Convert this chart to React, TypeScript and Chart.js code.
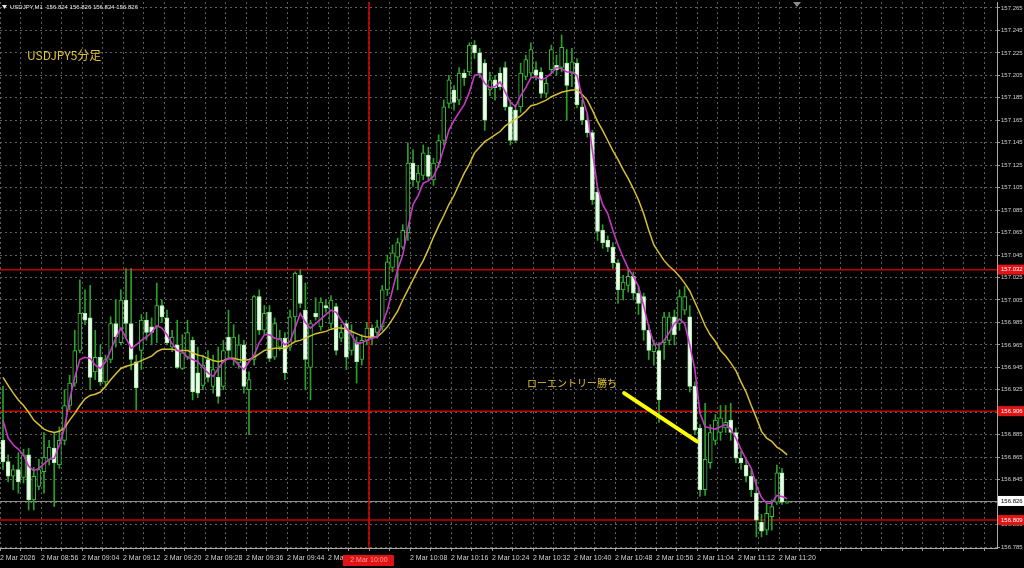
import React, { useEffect, useRef } from "react";
import { Chart, registerables } from "chart.js";

Chart.register(...registerables);

// ---------- data (USDJPY M1, bars 0..153) ----------
const opens = [
  156.880, 156.861, 156.848, 156.854, 156.847, 156.867, 156.827, 156.839, 156.852, 156.863,
  156.873, 156.858, 156.880, 156.911, 156.931, 156.960, 156.993, 156.989, 156.941, 156.954,
  156.932, 156.952, 156.984, 156.967, 157.005, 156.984, 156.950, 156.960, 156.987, 156.981,
  156.981, 157.000, 156.989, 156.963, 156.965, 156.944, 156.954, 156.969, 156.940, 156.929,
  156.952, 156.928, 156.936, 156.928, 156.972, 156.952, 156.949, 156.965, 156.925, 156.952,
  157.008, 156.978, 156.994, 156.954, 156.963, 156.971, 156.963, 156.990, 157.027, 156.996,
  156.945, 156.993, 156.981, 157.000, 156.984, 156.999, 156.971, 156.984, 156.960, 156.967,
  156.952, 156.969, 156.980, 156.976, 156.981, 157.014, 157.034, 157.043, 157.052, 157.065,
  157.127, 157.110, 157.116, 157.134, 157.112, 157.127, 157.147, 157.180, 157.192, 157.183,
  157.207, 157.208, 157.232, 157.225, 157.216, 157.192, 157.201, 157.207, 157.212, 157.177,
  157.174, 157.177, 157.204, 157.207, 157.210, 157.208, 157.189, 157.210, 157.214, 157.212,
  157.216, 157.207, 157.216, 157.177, 157.165, 157.154, 157.101, 157.067, 157.058, 157.052,
  157.038, 157.014, 157.018, 157.026, 157.011, 157.008, 156.978, 156.959, 156.960, 156.967,
  156.969, 156.990, 156.984, 156.996, 156.990, 156.928, 156.891, 156.836, 156.860, 156.880,
  156.887, 156.891, 156.898, 156.887, 156.864, 156.858, 156.848, 156.833, 156.807, 156.800,
  156.812, 156.825, 156.851, 156.824,
];

const highs = [
  156.928, 156.867, 156.858, 156.869, 156.872, 156.873, 156.856, 156.863, 156.887, 156.880,
  156.887, 156.892, 156.925, 156.938, 156.978, 157.023, 157.014, 157.018, 156.978, 156.965,
  156.956, 156.990, 157.005, 157.014, 157.033, 157.033, 156.956, 156.992, 156.994, 156.989,
  157.020, 157.005, 156.996, 156.978, 156.987, 156.974, 156.987, 156.972, 156.963, 156.956,
  156.960, 156.956, 156.963, 156.969, 156.996, 156.983, 156.974, 156.969, 156.941, 157.009,
  157.014, 157.000, 157.000, 156.989, 156.978, 156.976, 156.996, 157.030, 157.032, 157.020,
  156.987, 157.007, 157.007, 157.005, 157.009, 157.002, 156.983, 156.987, 156.983, 156.972,
  156.974, 156.985, 156.983, 156.987, 157.018, 157.045, 157.054, 157.060, 157.072, 157.145,
  157.139, 157.125, 157.143, 157.141, 157.131, 157.152, 157.183, 157.205, 157.196, 157.212,
  157.210, 157.234, 157.236, 157.229, 157.219, 157.208, 157.205, 157.212, 157.217, 157.183,
  157.179, 157.216, 157.223, 157.234, 157.217, 157.212, 157.203, 157.232, 157.223, 157.241,
  157.228, 157.229, 157.220, 157.183, 157.170, 157.156, 157.105, 157.072, 157.062, 157.056,
  157.041, 157.027, 157.032, 157.030, 157.017, 157.011, 156.983, 156.969, 156.967, 156.994,
  156.994, 156.996, 157.014, 157.017, 157.000, 156.932, 156.894, 156.913, 156.894, 156.903,
  156.911, 156.911, 156.913, 156.891, 156.870, 156.863, 156.854, 156.845, 156.814, 156.823,
  156.827, 156.858, 156.855, 156.826,
];

const lows = [
  156.854, 156.843, 156.836, 156.833, 156.842, 156.818, 156.818, 156.836, 156.833, 156.858,
  156.821, 156.855, 156.876, 156.907, 156.928, 156.958, 156.983, 156.925, 156.934, 156.929,
  156.928, 156.949, 156.963, 156.965, 156.971, 156.943, 156.907, 156.943, 156.969, 156.965,
  156.967, 156.985, 156.965, 156.959, 156.944, 156.943, 156.952, 156.916, 156.918, 156.925,
  156.932, 156.922, 156.913, 156.925, 156.952, 156.947, 156.944, 156.922, 156.885, 156.947,
  156.974, 156.974, 156.950, 156.952, 156.960, 156.934, 156.960, 156.969, 156.998, 156.925,
  156.916, 156.987, 156.978, 156.994, 156.980, 156.956, 156.968, 156.943, 156.956, 156.931,
  156.947, 156.965, 156.965, 156.971, 156.978, 157.009, 157.030, 157.014, 157.050, 157.058,
  157.106, 157.103, 157.112, 157.112, 157.107, 157.123, 157.143, 157.176, 157.174, 157.179,
  157.196, 157.205, 157.220, 157.203, 157.156, 157.187, 157.183, 157.192, 157.174, 157.143,
  157.145, 157.172, 157.201, 157.204, 157.201, 157.185, 157.186, 157.207, 157.205, 157.208,
  157.165, 157.195, 157.176, 157.161, 157.150, 157.090, 157.058, 157.051, 157.048, 157.033,
  157.002, 157.005, 157.012, 157.005, 156.992, 156.969, 156.952, 156.947, 156.896, 156.952,
  156.965, 156.965, 156.978, 156.992, 156.923, 156.885, 156.830, 156.831, 156.855, 156.876,
  156.880, 156.887, 156.880, 156.860, 156.854, 156.843, 156.830, 156.794, 156.794, 156.796,
  156.800, 156.823, 156.823, 156.824,
];

const closes = [
  156.861, 156.848, 156.854, 156.843, 156.867, 156.827, 156.848, 156.854, 156.865, 156.874,
  156.860, 156.880, 156.911, 156.931, 156.960, 156.993, 156.987, 156.936, 156.954, 156.932,
  156.952, 156.984, 156.972, 157.005, 156.984, 156.952, 156.927, 156.987, 156.976, 156.976,
  157.000, 156.990, 156.967, 156.972, 156.945, 156.958, 156.976, 156.923, 156.922, 156.947,
  156.936, 156.943, 156.919, 156.960, 156.960, 156.972, 156.965, 156.928, 156.934, 157.008,
  156.978, 156.993, 156.953, 156.984, 156.971, 156.940, 156.990, 157.029, 157.002, 156.952,
  156.984, 156.990, 157.003, 156.998, 157.005, 156.960, 156.976, 156.954, 156.976, 156.950,
  156.969, 156.980, 156.971, 156.981, 157.014, 157.039, 157.047, 157.056, 157.067, 157.127,
  157.112, 157.118, 157.136, 157.115, 157.127, 157.147, 157.177, 157.201, 157.181, 157.207,
  157.203, 157.232, 157.225, 157.207, 157.165, 157.201, 157.194, 157.195, 157.177, 157.147,
  157.147, 157.207, 157.219, 157.228, 157.205, 157.189, 157.198, 157.228, 157.210, 157.230,
  157.196, 157.217, 157.179, 157.165, 157.154, 157.094, 157.066, 157.056, 157.052, 157.038,
  157.014, 157.021, 157.026, 157.011, 157.002, 156.978, 156.960, 156.965, 156.916, 156.990,
  156.990, 156.974, 157.008, 157.008, 156.928, 156.889, 156.836, 156.863, 156.887, 156.898,
  156.900, 156.896, 156.887, 156.864, 156.860, 156.848, 156.836, 156.809, 156.799, 156.815,
  156.821, 156.851, 156.825, 156.826,
];

// magenta (fast) moving average
const maFast = [
  156.898, 156.882, 156.876, 156.872, 156.867, 156.857, 156.853, 156.855, 156.859, 156.863,
  156.864, 156.876, 156.891, 156.916, 156.936, 156.952, 156.954, 156.953, 156.947, 156.944,
  156.950, 156.960, 156.971, 156.980, 156.971, 156.962, 156.965, 156.969, 156.972, 156.976,
  156.982, 156.980, 156.974, 156.966, 156.960, 156.959, 156.954, 156.952, 156.950, 156.945,
  156.940, 156.937, 156.944, 156.950, 156.953, 156.952, 156.947, 156.943, 156.950, 156.956,
  156.967, 156.974, 156.974, 156.971, 156.970, 156.965, 156.968, 156.980, 156.993, 156.985,
  156.980, 156.984, 156.988, 156.992, 156.996, 156.994, 156.987, 156.980, 156.974, 156.966,
  156.967, 156.969, 156.971, 156.972, 156.983, 156.996, 157.014, 157.032, 157.045, 157.069,
  157.090, 157.098, 157.109, 157.111, 157.115, 157.125, 157.140, 157.156, 157.165, 157.172,
  157.179, 157.190, 157.205, 157.206, 157.198, 157.194, 157.195, 157.199, 157.190, 157.181,
  157.177, 157.187, 157.194, 157.203, 157.204, 157.201, 157.203, 157.207, 157.212, 157.211,
  157.208, 157.208, 157.205, 157.186, 157.171, 157.138, 157.105, 157.090, 157.082, 157.067,
  157.054, 157.043, 157.033, 157.026, 157.017, 157.000, 156.981, 156.966, 156.965, 156.969,
  156.976, 156.984, 156.988, 156.984, 156.965, 156.943, 156.904, 156.892, 156.891, 156.890,
  156.892, 156.894, 156.890, 156.882, 156.872, 156.863, 156.855, 156.840, 156.829, 156.824,
  156.824, 156.831, 156.830, 156.828,
];

// yellow (slow) moving average
const maSlow = [
  156.936, 156.929, 156.922, 156.916, 156.911, 156.905, 156.898, 156.894, 156.890, 156.888,
  156.887, 156.888, 156.891, 156.898, 156.904, 156.911, 156.917, 156.920, 156.921, 156.923,
  156.928, 156.934, 156.939, 156.944, 156.946, 156.947, 156.949, 156.951, 156.953, 156.955,
  156.959, 156.961, 156.961, 156.961, 156.960, 156.960, 156.960, 156.958, 156.956, 156.955,
  156.953, 156.951, 156.950, 156.951, 156.953, 156.953, 156.952, 156.951, 156.952, 156.954,
  156.957, 156.960, 156.961, 156.962, 156.962, 156.962, 156.965, 156.968, 156.969, 156.971,
  156.973, 156.975, 156.976, 156.977, 156.979, 156.980, 156.980, 156.979, 156.977, 156.975,
  156.973, 156.972, 156.972, 156.972, 156.976, 156.981, 156.988, 156.995, 157.005, 157.014,
  157.023, 157.032, 157.040, 157.050, 157.061, 157.071, 157.080, 157.090, 157.098, 157.108,
  157.118, 157.126, 157.136, 157.141, 157.146, 157.149, 157.152, 157.155, 157.160, 157.163,
  157.166, 157.169, 157.173, 157.178, 157.179, 157.181, 157.183, 157.186, 157.188, 157.190,
  157.191, 157.192, 157.192, 157.188, 157.183, 157.174, 157.164, 157.156, 157.147, 157.138,
  157.130, 157.121, 157.113, 157.104, 157.094, 157.082, 157.067, 157.054, 157.047, 157.040,
  157.035, 157.031, 157.026, 157.020, 157.013, 157.003, 156.993, 156.982, 156.974, 156.968,
  156.960, 156.955, 156.949, 156.942, 156.932, 156.923, 156.911, 156.900, 156.888, 156.882,
  156.879, 156.874, 156.871, 156.867,
];

const yTickValues = [
  157.265, 157.245, 157.225, 157.205, 157.185, 157.165, 157.145, 157.125, 157.105, 157.085,
  157.065, 157.045, 157.025, 157.005, 156.985, 156.965, 156.945, 156.925, 156.905, 156.885,
  156.865, 156.845, 156.825, 156.805, 156.785,
];

const timeLabels = [
  "2 Mar 2026", "2 Mar 08:56", "2 Mar 09:04", "2 Mar 09:12", "2 Mar 09:20",
  "2 Mar 09:28", "2 Mar 09:36", "2 Mar 09:44", "2 Mar 09:52", "",
  "2 Mar 10:08", "2 Mar 10:16", "2 Mar 10:24", "2 Mar 10:32", "2 Mar 10:40",
  "2 Mar 10:48", "2 Mar 10:56", "2 Mar 11:04", "2 Mar 11:12", "2 Mar 11:20",
];

const redLevels = [157.032, 156.906, 156.809];
const currentPrice = 156.826;
const crossBar = 71.4;
const crossLabel = "2 Mar 10:00";
const noteLine = [
  { x: 121.2, y: 156.922 },
  { x: 135.4, y: 156.879 },
];
const headerText = "USDJPY,M1  156.824 156.826 156.824 156.826";
const titleText = "USDJPY5分足";
const noteText = "ローエントリー勝ち";

// ---------- layout constants ----------
const X_MIN = -0.585;
const X_MAX = 193.95;
const Y_MIN = 156.78411;
const Y_MAX = 157.27034;
const LABEL_FONT = '"Liberation Sans", Arial, sans-serif';

const overlayPlugin = {
  id: "mtOverlay",
  beforeDraw(chart: any) {
    const { ctx, width, height } = chart;
    ctx.save();
    ctx.fillStyle = "#000000";
    ctx.fillRect(0, 0, width, height);
    ctx.restore();
  },
  beforeDatasetsDraw(chart: any) {
    const { ctx, chartArea: a, scales } = chart;
    const xs = scales.x;
    const ys = scales.y;
    ctx.save();
    // current price line
    const pc = Math.round(ys.getPixelForValue(currentPrice)) + 0.5;
    ctx.strokeStyle = "#8c8c8c";
    ctx.lineWidth = 1;
    ctx.beginPath();
    ctx.moveTo(a.left, pc);
    ctx.lineTo(a.right, pc);
    ctx.stroke();
    // red horizontal levels
    ctx.strokeStyle = "#c40000";
    ctx.lineWidth = 1.5;
    for (const v of redLevels) {
      const py = ys.getPixelForValue(v);
      ctx.beginPath();
      ctx.moveTo(a.left, py);
      ctx.lineTo(a.right, py);
      ctx.stroke();
    }
    // vertical red line
    const cx = xs.getPixelForValue(crossBar);
    ctx.strokeStyle = "#e00000";
    ctx.lineWidth = 1.5;
    ctx.beginPath();
    ctx.moveTo(cx, a.top);
    ctx.lineTo(cx, a.bottom);
    ctx.stroke();
    ctx.restore();
  },
  afterDraw(chart: any) {
    const { ctx, chartArea: a, scales } = chart;
    const xs = scales.x;
    const ys = scales.y;
    ctx.save();
    ctx.textBaseline = "middle";
    ctx.textAlign = "left";
    ctx.font = `6px ${LABEL_FONT}`;
    // red price boxes
    for (const v of redLevels) {
      const py = ys.getPixelForValue(v);
      ctx.fillStyle = "#e01414";
      ctx.fillRect(a.right + 1, py - 5, 27, 10);
      ctx.fillStyle = "#ffffff";
      ctx.fillText(v.toFixed(3), a.right + 4, py);
    }
    // current price box
    const pc = ys.getPixelForValue(currentPrice);
    ctx.fillStyle = "#ffffff";
    ctx.fillRect(a.right + 1, pc - 5, 27, 10);
    ctx.fillStyle = "#000000";
    ctx.fillText(currentPrice.toFixed(3), a.right + 4, pc);
    // time crosshair label
    const cx = xs.getPixelForValue(crossBar);
    ctx.fillStyle = "#e01414";
    ctx.fillRect(cx - 26, a.bottom + 7, 51, 11);
    ctx.fillStyle = "#ff9c9c";
    ctx.font = `7px ${LABEL_FONT}`;
    ctx.textAlign = "center";
    ctx.fillText(crossLabel, cx, a.bottom + 12.5);
    // header
    ctx.textAlign = "left";
    ctx.fillStyle = "#e8e8e8";
    ctx.beginPath();
    ctx.moveTo(2, 5);
    ctx.lineTo(7, 5);
    ctx.lineTo(4.5, 9);
    ctx.closePath();
    ctx.fill();
    ctx.font = `6px ${LABEL_FONT}`;
    ctx.fillText(headerText, 10, 7.5);
    // chart shift marker
    ctx.fillStyle = "#8a8a8a";
    ctx.beginPath();
    ctx.moveTo(793, 2);
    ctx.lineTo(801, 2);
    ctx.lineTo(797, 7);
    ctx.closePath();
    ctx.fill();
    // annotations
    ctx.fillStyle = "#e2c435";
    ctx.font = '12px "Noto Sans CJK JP", sans-serif';
    ctx.fillText(titleText, 27, 55);
    ctx.font = '10px "Noto Sans CJK JP", sans-serif';
    ctx.fillText(noteText, 527, 383);
    ctx.restore();
  },
};

export default function App() {
  const canvasRef = useRef<HTMLCanvasElement | null>(null);

  useEffect(() => {
    document.body.style.margin = "0";
    document.body.style.background = "#000";
    const canvas = canvasRef.current;
    if (!canvas) return;

    const n = closes.length;
    const idx = Array.from({ length: n }, (_, i) => i);
    const wickData = idx.map((i) => ({ x: i, y: [lows[i], highs[i]] }));
    const bodyData = idx.map((i) => ({ x: i, y: [opens[i], closes[i]] }));
    const isBull = idx.map((i) => closes[i] >= opens[i]);
    const bodyFill = isBull.map((b) => (b ? "#000000" : "#effff0"));
    const bodyBorder = isBull.map((b) => (b ? "#3cc03c" : "#a8eca8"));
    const gridTicks = Array.from({ length: 49 }, (_, k) => 4 * k + X_MIN);

    const chart = new Chart(canvas, {
      type: "bar",
      data: {
        datasets: [
          {
            type: "line",
            data: noteLine,
            borderColor: "#ffff00",
            borderWidth: 4,
            borderCapStyle: "round",
            pointRadius: 0,
            order: 0,
          } as any,
          {
            type: "line",
            data: maFast.map((v, i) => ({ x: i, y: v })),
            borderColor: "#c838c8",
            borderWidth: 1.6,
            pointRadius: 0,
            tension: 0,
            order: 1,
          } as any,
          {
            type: "line",
            data: maSlow.map((v, i) => ({ x: i, y: v })),
            borderColor: "#d8bf2e",
            borderWidth: 1.5,
            pointRadius: 0,
            tension: 0,
            order: 1,
          } as any,
          {
            type: "bar",
            data: bodyData,
            backgroundColor: bodyFill,
            borderColor: bodyBorder,
            borderWidth: 1,
            borderSkipped: false,
            barThickness: 4,
            minBarLength: 1,
            grouped: false,
            order: 2,
          } as any,
          {
            type: "bar",
            data: wickData,
            backgroundColor: "#2aa02a",
            borderWidth: 0,
            barThickness: 1,
            grouped: false,
            order: 3,
          } as any,
        ],
      },
      options: {
        responsive: false,
        animation: false,
        devicePixelRatio: 1,
        events: [],
        layout: { padding: { top: 2, left: 0, right: 0, bottom: 0 } },
        plugins: { legend: { display: false }, tooltip: { enabled: false } },
        scales: {
          x: {
            type: "linear",
            min: X_MIN,
            max: X_MAX,
            offset: false,
            afterBuildTicks: (s: any) => {
              s.ticks = gridTicks.map((v) => ({ value: v }));
            },
            afterFit: (s: any) => {
              s.height = 20;
              s.paddingLeft = 0;
              s.paddingRight = 0;
            },
            grid: {
              color: "#5e5e5e",
              lineWidth: 1,
              offset: false,
              drawTicks: true,
              tickLength: 3,
              tickColor: "#9a9a9a",
            },
            border: { display: true, color: "#a8a8a8", width: 1, dash: [2, 3] },
            ticks: {
              autoSkip: false,
              maxRotation: 0,
              minRotation: 0,
              align: "start",
              padding: 3,
              color: "#cfcfcf",
              font: { size: 7, family: LABEL_FONT },
              callback: (_v: any, i: number) =>
                i % 2 === 0 ? timeLabels[i / 2] ?? "" : "",
            },
          },
          y: {
            type: "linear",
            position: "right",
            min: Y_MIN,
            max: Y_MAX,
            afterBuildTicks: (s: any) => {
              s.ticks = yTickValues.map((v) => ({ value: v }));
            },
            afterFit: (s: any) => {
              s.width = 27;
              s.paddingTop = 0;
              s.paddingBottom = 0;
            },
            grid: {
              color: "#5e5e5e",
              lineWidth: 1,
              drawTicks: true,
              tickLength: 3,
              tickColor: "#9a9a9a",
            },
            border: { display: true, color: "#a8a8a8", width: 1, dash: [2, 3] },
            ticks: {
              padding: 1,
              color: "#cfcfcf",
              font: { size: 6, family: LABEL_FONT },
              callback: (v: any) => Number(v).toFixed(3),
            },
          },
        },
      } as any,
      plugins: [overlayPlugin],
    });

    return () => chart.destroy();
  }, []);

  return (
    <div
      style={{
        position: "fixed",
        left: 0,
        top: 0,
        width: 1024,
        height: 568,
        background: "#000",
      }}
    >
      <canvas
        ref={canvasRef}
        width={1024}
        height={568}
        style={{ display: "block", width: 1024, height: 568 }}
      />
    </div>
  );
}
